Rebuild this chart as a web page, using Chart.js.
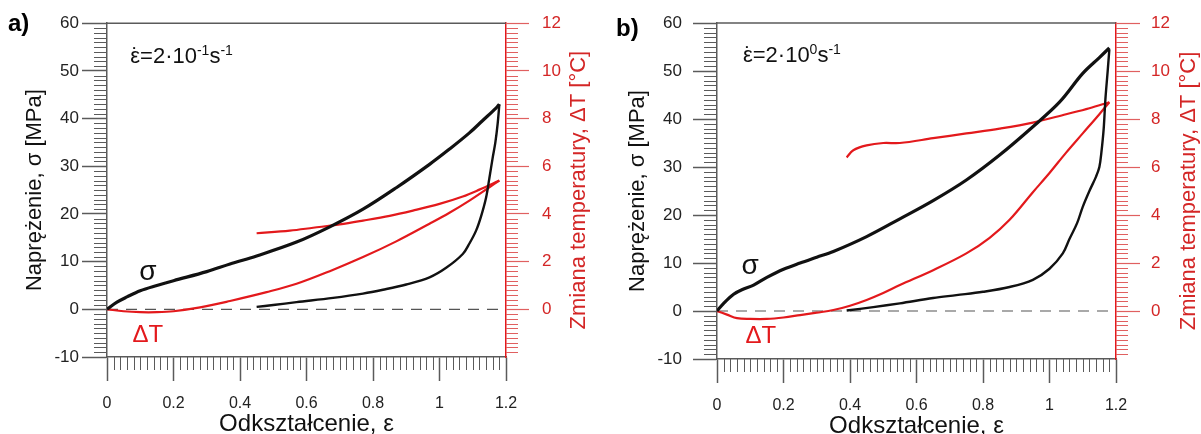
<!DOCTYPE html>
<html>
<head>
<meta charset="utf-8">
<script src="https://cdn.jsdelivr.net/npm/chart.js@4.4.1/dist/chart.umd.min.js"></script>
<style>
  html, body { margin: 0; padding: 0; background: #fff; overflow: hidden; }
  .panel { position: absolute; top: 0; height: 434px; }
</style>
</head>
<body>
<div class="panel" style="left:0;width:600px"><canvas id="chartA" width="600" height="434"></canvas></div>
<div class="panel" style="left:600px;width:601px"><canvas id="chartB" width="601" height="434"></canvas></div>
<script>
// tick labels
const strainTicks = [0, 0.2, 0.4, 0.6, 0.8, 1, 1.2]
const stressTicks = [-10, 0, 10, 20, 30, 40, 50, 60]
const tempTicks = [0, 2, 4, 6, 8, 10, 12]

// a) 2·10^-1 s^-1 : stress loading / unloading
const loadStrainA = [0, 0.03, 0.06, 0.1, 0.15, 0.2, 0.3, 0.37, 0.45, 0.57, 0.67, 0.77, 0.87, 0.97, 1.03, 1.09, 1.13, 1.17, 1.18]
const loadStressA = [0, 1.5, 2.6, 3.9, 5.0, 6.0, 7.9, 9.5, 11.2, 14.1, 17.3, 21, 25.5, 30.4, 33.6, 37, 39.6, 42.2, 43]
const unloadStrainA = [1.18, 1.175, 1.168, 1.16, 1.15, 1.14, 1.125, 1.11, 1.09, 1.07, 1.02, 0.97, 0.9, 0.83, 0.77, 0.68, 0.57, 0.5, 0.45]
const unloadStressA = [43, 39, 35, 31.8, 27.5, 23.4, 19.5, 16.5, 13.8, 11.6, 8.7, 6.7, 5.2, 4.1, 3.3, 2.4, 1.5, 0.9, 0.5]
// a) temperature change
const loadTempStrainA = [0, 0.05, 0.1, 0.15, 0.2, 0.28, 0.37, 0.48, 0.57, 0.67, 0.77, 0.87, 0.97, 1.03, 1.09, 1.15, 1.18]
const loadTempA = [0, -0.08, -0.12, -0.12, -0.08, 0.08, 0.35, 0.72, 1.07, 1.6, 2.19, 2.85, 3.59, 4.05, 4.56, 5.12, 5.4]
const unloadTempStrainA = [1.18, 1.12, 1.07, 1.0, 0.92, 0.85, 0.77, 0.7, 0.62, 0.55, 0.45]
const unloadTempA = [5.4, 5.02, 4.73, 4.42, 4.14, 3.92, 3.72, 3.56, 3.42, 3.3, 3.19]

// b) 2·10^0 s^-1 : stress loading / unloading
const loadStrainB = [0, 0.02, 0.05, 0.08, 0.11, 0.15, 0.2, 0.25, 0.3, 0.35, 0.45, 0.55, 0.65, 0.75, 0.85, 0.95, 1.03, 1.1, 1.15, 1.18]
const loadStressB = [0, 1.6, 3.5, 4.6, 5.4, 7.0, 8.7, 10, 11.2, 12.4, 15.5, 19.2, 23, 27.3, 32.5, 38.4, 43.5, 49.5, 52.8, 54.8]
const unloadStrainB = [1.18, 1.175, 1.168, 1.163, 1.156, 1.15, 1.14, 1.12, 1.1, 1.083, 1.06, 1.04, 1.0, 0.95, 0.88, 0.8, 0.72, 0.65, 0.55, 0.47, 0.39]
const unloadStressB = [54.5, 50, 44, 38, 33, 30, 28, 25, 21.7, 18.3, 15, 12, 8.8, 6.5, 5.0, 4.0, 3.3, 2.7, 1.6, 0.8, 0.1]
// b) temperature change
const loadTempStrainB = [0, 0.03, 0.06, 0.1, 0.15, 0.2, 0.25, 0.3, 0.35, 0.4, 0.45, 0.5, 0.55, 0.65, 0.75, 0.82, 0.88, 0.95, 1.0, 1.05, 1.1, 1.15, 1.18]
const loadTempB = [0, -0.15, -0.3, -0.33, -0.33, -0.27, -0.17, -0.07, 0.04, 0.22, 0.46, 0.75, 1.08, 1.7, 2.4, 3.05, 3.8, 4.95, 5.75, 6.6, 7.4, 8.2, 8.7]
const unloadTempStrainB = [1.18, 1.12, 1.05, 0.95, 0.85, 0.75, 0.65, 0.55, 0.5, 0.45, 0.41, 0.39]
const unloadTempB = [8.7, 8.45, 8.2, 7.85, 7.6, 7.4, 7.2, 7.0, 7.0, 6.9, 6.7, 6.4]

const FONT = '"Liberation Sans", Arial, sans-serif'
const axisGrey = '#5a5a5a'
const red = '#e3191c'
const redTick = '#e06060'
const redText = '#d42626'

const zip = (xs, ys) => xs.map((x, i) => ({ x, y: ys[i] }))
const fmt = v => String(Math.round(v * 10) / 10)

function minorTicks (ctx, scale, step, len, side, area, color) {
  ctx.strokeStyle = color
  ctx.lineWidth = 1
  ctx.beginPath()
  const n = Math.round((scale.max - scale.min) / step)
  for (let i = 1; i < n; i++) {
    if (i % 10 === 0) continue
    const v = scale.min + i * step
    const p = Math.round(scale.getPixelForValue(v)) + 0.5
    if (side === 'bottom') { ctx.moveTo(p, area.bottom); ctx.lineTo(p, area.bottom + len) }
    else if (side === 'left') { ctx.moveTo(area.left, p); ctx.lineTo(area.left - len, p) }
    else { ctx.moveTo(area.right, p); ctx.lineTo(area.right + len, p) }
  }
  ctx.stroke()
}

function rateText (ctx, x, y, exp) {
  const parts = [['ε', 22, 0], ['=2·10', 22, 0], [exp, 14, -8], ['s', 22, 0], ['-1', 14, -8]]
  ctx.textAlign = 'left'
  ctx.textBaseline = 'alphabetic'
  ctx.fillStyle = '#111'
  let cx = x
  parts.forEach(([t, size, dy], i) => {
    ctx.font = `${size}px ${FONT}`
    ctx.fillText(t, cx, y + dy)
    if (i === 0) {
      const w = ctx.measureText(t).width
      ctx.textAlign = 'center'
      ctx.fillText('˙', cx + w / 2, y)
      ctx.textAlign = 'left'
    }
    cx += ctx.measureText(t).width
  })
}

const extras = {
  id: 'extras',
  afterDraw (chart, args, o) {
    const ctx = chart.ctx
    const a = chart.chartArea
    const { x, y, y1 } = chart.scales
    ctx.save()
    // top frame line
    ctx.strokeStyle = axisGrey
    ctx.lineWidth = 1.5
    ctx.beginPath()
    ctx.moveTo(a.left, a.top)
    ctx.lineTo(a.right, a.top)
    ctx.stroke()
    // minor ticks
    minorTicks(ctx, x, 0.02, 13, 'bottom', a, axisGrey)
    minorTicks(ctx, y, 1, 13, 'left', a, axisGrey)
    minorTicks(ctx, y1, 0.2, 12, 'right', a, redTick)
    // right axis title, reading upward
    ctx.translate(o.rTitleX, (a.top + a.bottom) / 2)
    ctx.rotate(-Math.PI / 2)
    ctx.font = `22px ${FONT}`
    ctx.fillStyle = redText
    ctx.textAlign = 'center'
    ctx.textBaseline = 'middle'
    ctx.fillText('Zmiana temperatury, ΔT [°C]', 0, 0)
    ctx.restore()

    ctx.save()
    rateText(ctx, x.getPixelForValue(o.rate[0]), y.getPixelForValue(o.rate[1]), o.exp)
    ctx.textAlign = 'center'
    ctx.textBaseline = 'middle'
    ctx.font = `28px ${FONT}`
    ctx.fillStyle = '#111'
    ctx.fillText('σ', x.getPixelForValue(o.sigma[0]), y.getPixelForValue(o.sigma[1]))
    ctx.font = `24px ${FONT}`
    ctx.fillStyle = red
    ctx.fillText('ΔT', x.getPixelForValue(o.dT[0]), y.getPixelForValue(o.dT[1]))
    ctx.font = `bold 24px ${FONT}`
    ctx.fillStyle = '#000'
    ctx.textAlign = 'left'
    ctx.textBaseline = 'alphabetic'
    ctx.fillText(o.tag, o.tagX, o.tagY)
    ctx.restore()
  }
}

function makePanel (id, d, p) {
  const canvas = document.getElementById(id)
  const W = canvas.width
  const H = canvas.height
  return new Chart(canvas, {
    type: 'scatter',
    data: {
      datasets: [
        { data: zip(d.loadStrain, d.loadStress), yAxisID: 'y', borderColor: '#111', borderWidth: 3.2 },
        { data: zip(d.unloadStrain, d.unloadStress), yAxisID: 'y', borderColor: '#111', borderWidth: 2.4 },
        { data: zip(d.loadTempStrain, d.loadTemp), yAxisID: 'y1', borderColor: red, borderWidth: 2.2 },
        { data: zip(d.unloadTempStrain, d.unloadTemp), yAxisID: 'y1', borderColor: red, borderWidth: 2.2 },
        { data: zip([0, 1.2], [0, 0]), yAxisID: 'y', borderColor: '#555', borderWidth: 1.2, borderDash: [11, 8], tension: 0 }
      ]
    },
    options: {
      responsive: false,
      animation: false,
      showLine: true,
      elements: { point: { radius: 0 }, line: { tension: 0.35, fill: false } },
      layout: { padding: { top: p.top, left: 0, right: 0, bottom: 0 } },
      plugins: {
        legend: { display: false },
        tooltip: { enabled: false },
        extras: p
      },
      scales: {
        x: {
          type: 'linear',
          position: 'bottom',
          min: 0,
          max: 1.2,
          afterBuildTicks: s => { s.ticks = strainTicks.map(v => ({ value: v })) },
          afterFit: s => { s.height = H - p.bottom },
          border: { color: axisGrey, width: 1.5 },
          grid: { drawOnChartArea: false, tickLength: 24, tickColor: axisGrey, tickWidth: 1.5 },
          ticks: { color: '#222', font: { family: FONT, size: 16 }, padding: 13, maxRotation: 0, callback: v => fmt(v) },
          title: { display: true, text: 'Odkształcenie, ε', color: '#111', font: { family: FONT, size: 24, lineHeight: 1 }, padding: { top: 0, bottom: p.xTitlePad } }
        },
        y: {
          type: 'linear',
          position: 'left',
          min: -10,
          max: 60,
          afterBuildTicks: s => { s.ticks = stressTicks.map(v => ({ value: v })) },
          afterFit: s => { s.width = p.left },
          border: { color: axisGrey, width: 1.5 },
          grid: { drawOnChartArea: false, tickLength: p.yTickLen, tickColor: axisGrey, tickWidth: 1.5 },
          ticks: { color: '#222', font: { family: FONT, size: 17 }, padding: p.yPad },
          title: { display: true, text: 'Naprężenie, σ [MPa]', color: '#111', font: { family: FONT, size: 22, lineHeight: 1 }, padding: { top: p.yTitlePad, bottom: 0 } }
        },
        y1: {
          type: 'linear',
          position: 'right',
          min: -2,
          max: 12,
          afterBuildTicks: s => { s.ticks = tempTicks.map(v => ({ value: v })) },
          afterFit: s => { s.width = W - p.right },
          border: { color: red, width: 1.5 },
          grid: { drawOnChartArea: false, tickLength: p.rTickLen, tickColor: redTick, tickWidth: 1.2 },
          ticks: { color: redText, font: { family: FONT, size: 17 }, padding: p.rPad }
        }
      }
    },
    plugins: [extras]
  })
}

makePanel('chartA', {
  loadStrain: loadStrainA, loadStress: loadStressA,
  unloadStrain: unloadStrainA, unloadStress: unloadStressA,
  loadTempStrain: loadTempStrainA, loadTemp: loadTempA,
  unloadTempStrain: unloadTempStrainA, unloadTemp: unloadTempA
}, {
  left: 107, right: 506, top: 22, bottom: 357,
  yTickLen: 25, yPad: 3, rTickLen: 23, rPad: 13, yTitlePad: 24, rTitleX: 579, xTitlePad: -2,
  tag: 'a)', tagX: 8, tagY: 31, exp: '-1',
  rate: [0.07, 51.6], sigma: [0.123, 7.7], dT: [0.123, -5.4]
})

makePanel('chartB', {
  loadStrain: loadStrainB, loadStress: loadStressB,
  unloadStrain: unloadStrainB, unloadStress: unloadStressB,
  loadTempStrain: loadTempStrainB, loadTemp: loadTempB,
  unloadTempStrain: unloadTempStrainB, unloadTemp: unloadTempB
}, {
  left: 117, right: 516, top: 23, bottom: 359,
  yTickLen: 24, yPad: 11, rTickLen: 24, rPad: 11, yTitlePad: 27, rTitleX: 589, xTitlePad: -4,
  tag: 'b)', tagX: 16, tagY: 36, exp: '0',
  rate: [0.078, 51.9], sigma: [0.1, 9.4], dT: [0.132, -5.2]
})
</script>
</body>
</html>
